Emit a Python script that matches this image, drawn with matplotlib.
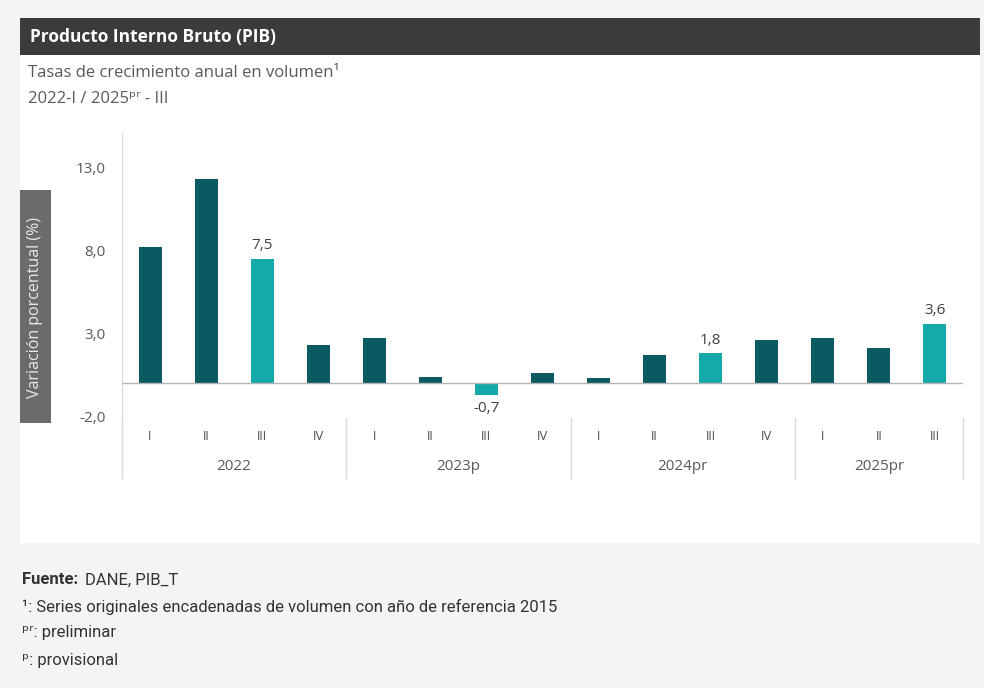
import matplotlib

matplotlib.use("Agg")
import matplotlib.pyplot as plt
from matplotlib.patches import Rectangle

years = ["2022", "2023p", "2024pr", "2025pr"]
quarters = [
    ["I", "II", "III", "IV"],
    ["I", "II", "III", "IV"],
    ["I", "II", "III", "IV"],
    ["I", "II", "III"],
]
values = [8.2, 12.3, 7.5, 2.3, 2.7, 0.4, -0.7, 0.6, 0.3, 1.7, 1.8, 2.6, 2.7, 2.1, 3.6]
highlight = [2, 6, 10, 14]
yticks = [-2.0, 3.0, 8.0, 13.0]

DARK = "#0b5a61"
LIGHT = "#15a9ab"
GREY_TXT = "#595959"

plt.rcParams["font.family"] = ["Open Sans", "DejaVu Sans"]

fig = plt.figure(figsize=(9.84, 6.88), dpi=100)
fig.patch.set_facecolor("#f4f4f4")

# white card and title bar
fig.patches.append(Rectangle((20 / 984, 1 - 543 / 688), 960 / 984, 525 / 688,
                             transform=fig.transFigure, facecolor="white",
                             edgecolor="none", zorder=-2))
fig.patches.append(Rectangle((20 / 984, 1 - 55 / 688), 960 / 984, 37 / 688,
                             transform=fig.transFigure, facecolor="#3b3b3b",
                             edgecolor="none", zorder=-1))
fig.text(30 / 984, 1 - 37 / 688, "Producto Interno Bruto (PIB)", color="white",
         fontsize=12.5, fontweight="bold", va="center", ha="left")
fig.text(28 / 984, 1 - 73 / 688, "Tasas de crecimiento anual en volumen¹",
         color=GREY_TXT, fontsize=12, va="center", ha="left")
fig.text(28 / 984, 1 - 99 / 688, "2022-I / 2025ᵖʳ - III",
         color=GREY_TXT, fontsize=12, va="center", ha="left")

ax = fig.add_axes([122 / 984, 1 - 418 / 688, 841 / 984, 285 / 688])
ax.set_zorder(5)
ax.set_facecolor("none")
xs = list(range(len(values)))
colors = [LIGHT if i in highlight else DARK for i in xs]
ax.bar(xs, values, width=0.41, color=colors, zorder=2)
ax.axhline(0, color="#b5b5b5", linewidth=1, zorder=3)

for i in highlight:
    v = values[i]
    off = 0.35 if v >= 0 else -0.35
    ax.text(i, v + off, f"{v:.1f}".replace(".", ","), ha="center",
            va="bottom" if v >= 0 else "top", fontsize=11, color="#404040")

ax.set_xlim(-0.5, len(values) - 0.5)
ax.set_ylim(-2.1, 15.1)
ax.set_yticks(yticks)
ax.set_yticklabels([f"{t:.1f}".replace(".", ",") for t in yticks],
                   fontsize=11, color=GREY_TXT)
ax.tick_params(axis="y", length=0, pad=12)
ax.set_xticks([])
for s in ["top", "right", "bottom"]:
    ax.spines[s].set_visible(False)
ax.spines["left"].set_color("#d9d9d9")

# extend the axis line down past the category labels
trans = ax.get_xaxis_transform()
ax.plot([-0.5, -0.5], [0, -0.21], transform=trans,
        color="#d9d9d9", linewidth=1, clip_on=False)

pos = 0
for y, qs in zip(years, quarters):
    start = pos
    for q in qs:
        ax.text(pos, -0.065, q, transform=trans, ha="center", va="center",
                fontsize=8.5, color=GREY_TXT, fontfamily="DejaVu Sans")
        pos += 1
    ax.text((start + pos - 1) / 2, -0.17, y, transform=trans, ha="center",
            va="center", fontsize=11, color=GREY_TXT)
    ax.plot([pos - 0.5, pos - 0.5], [0.0, -0.21], transform=trans,
            color="#d9d9d9", linewidth=1, clip_on=False)

# y label box
fig.patches.append(Rectangle((20 / 984, 1 - 423 / 688), 31 / 984, 233 / 688,
                             transform=fig.transFigure, facecolor="#6b6b6b",
                             edgecolor="none", zorder=1))
fig.text(35.5 / 984, 1 - 307 / 688, "Variación porcentual (%)", rotation=90,
         color="#e8e8e8", fontsize=11.5, ha="center", va="center")

# footnotes
foot = ["Roboto", "DejaVu Sans"]
fs = 12
fig.text(22 / 984, 1 - 580 / 688, "Fuente:", fontsize=fs, color="#333333",
         fontweight="bold", family=foot, va="center")
fig.text(85 / 984, 1 - 580 / 688, "DANE, PIB_T", fontsize=fs, color="#333333",
         family=foot, va="center")
fig.text(22 / 984, 1 - 607 / 688,
         "¹: Series originales encadenadas de volumen con año de referencia 2015",
         fontsize=fs, color="#333333", family=foot, va="center")
fig.text(22 / 984, 1 - 633 / 688, "ᵖʳ: preliminar", fontsize=fs,
         color="#333333", family=foot, va="center")
fig.text(22 / 984, 1 - 660 / 688, "ᵖ: provisional", fontsize=fs,
         color="#333333", family=foot, va="center")

fig.savefig("out.png", dpi=100, facecolor=fig.get_facecolor())
